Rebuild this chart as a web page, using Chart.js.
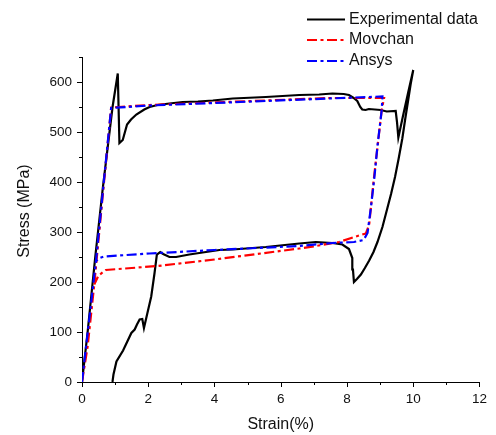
<!DOCTYPE html>
<html>

<head>
    <script src="https://cdn.jsdelivr.net/npm/chart.js@4.4.0/dist/chart.umd.min.js"></script>
    <style>
        html, body {
            margin: 0;
            padding: 0;
            background-color: #fff;
        }

        #wrap {
            width: 496px;
            height: 435px;
        }
    </style>
</head>

<body>
    <div id="wrap">
        <canvas id="myChart"></canvas>
    </div>

    <script>
        // Experimental data (loading then unloading loop)
        const expStrain = [0, 0.17, 0.4, 0.63, 0.92, 1.08,
            1.13, 1.23, 1.36, 1.48, 1.64, 1.88, 2.04, 2.28, 2.64, 3.04, 3.5, 3.95, 4.55, 5.55, 6.56, 7.16, 7.56, 7.9, 8.06, 8.2, 8.31, 8.4, 8.46, 8.56, 8.66, 9.02, 9.2, 9.47, 9.51, 9.55,
            9.7, 9.85, 10.0,
            9.92, 9.85, 9.76, 9.67, 9.56, 9.45, 9.33, 9.22, 9.07, 8.92, 8.8, 8.67, 8.54, 8.42, 8.3, 8.21,
            8.18, 8.16, 8.06, 7.86, 7.56, 7.06, 6.56, 5.55, 4.55, 4.15, 3.54, 3.24, 2.84, 2.64, 2.45, 2.36, 2.26, 2.19, 2.09, 1.94, 1.87, 1.82, 1.74, 1.66, 1.59, 1.49, 1.24, 1.04, 0.95, 0.92];
        const expStress = [0, 100, 250, 389, 549, 617,
            478, 484, 515, 525, 535, 545, 550, 554, 557, 560, 561, 563, 567, 570, 574, 575, 577, 576, 574, 568, 562, 550, 545, 544, 546, 544, 541, 542, 520, 489,
            535, 580, 624,
            595, 565, 527, 487, 447, 410, 376, 348, 310, 280, 260, 243, 228, 215, 206, 200,
            225, 248, 266, 275, 278, 280, 277, 270, 265, 264, 258, 255, 250, 250, 256, 260, 255, 218, 171, 128, 108, 126, 125, 115, 105, 98, 63, 41, 15, 0];

        // Movchan model
        const movStrain = [0, 0.17, 0.37, 0.6, 0.88, 2.04, 7.46, 9.12, 9.05, 8.92, 8.8, 8.67, 8.57, 8.36, 7.76, 7.06, 6.56, 4.0, 2.28, 0.72, 0.5, 0.37];
        const movStress = [0, 71, 195, 355, 549, 554, 568, 568, 545, 470, 400, 315, 297, 293, 280, 272, 267, 245, 232, 224, 213, 195];

        // Ansys model
        const ansStrain = [0, 0.42, 0.88, 2.04, 7.46, 9.07, 9.05, 8.92, 8.82, 8.72, 8.62, 8.5, 8.21, 7.56, 6.56, 4.0, 2.04, 0.67, 0.5, 0.42];
        const ansStress = [0, 241, 548, 553, 567, 571, 545, 472, 405, 348, 298, 284, 280, 278, 272, 264, 257, 251, 247, 241];

        const xTicks = [0, 2, 4, 6, 8, 10, 12];
        const yTicks = [0, 100, 200, 300, 400, 500, 600];

        function toPoints(xs, ys) {
            return xs.map((x, i) => ({ x: x, y: ys[i] }));
        }

        const fontFamily = '"Liberation Sans", Arial, sans-serif';
        const dashDot = [10, 3.5, 3, 3.5];

        // ticks (major + minor), axis titles and legend
        const extras = {
            id: 'extras',
            afterDraw(chart) {
                const ctx = chart.ctx;
                const xs = chart.scales.x;
                const ys = chart.scales.y;
                const area = chart.chartArea;
                ctx.save();
                ctx.strokeStyle = '#000';
                ctx.lineWidth = 1;
                for (let v = 0; v <= 12; v++) {
                    const px = Math.round(xs.getPixelForValue(v)) + 0.5;
                    const len = v % 2 === 0 ? 5 : 3;
                    ctx.beginPath();
                    ctx.moveTo(px, area.bottom);
                    ctx.lineTo(px, area.bottom + len);
                    ctx.stroke();
                }
                for (let v = 0; v <= 650; v += 50) {
                    const py = Math.round(ys.getPixelForValue(v)) + 0.5;
                    const len = v % 100 === 0 ? 5 : 3;
                    ctx.beginPath();
                    ctx.moveTo(area.left, py);
                    ctx.lineTo(area.left - len, py);
                    ctx.stroke();
                }

                // axis titles
                ctx.fillStyle = '#111';
                ctx.font = '16px ' + fontFamily;
                ctx.textAlign = 'center';
                ctx.textBaseline = 'middle';
                ctx.fillText('Strain(%)', (area.left + area.right) / 2, 425);
                ctx.save();
                ctx.translate(25, 211);
                ctx.rotate(-Math.PI / 2);
                ctx.fillText('Stress (MPa)', 0, 0);
                ctx.restore();

                // legend
                const rows = [19.5, 40, 61];
                chart.data.datasets.forEach((ds, i) => {
                    const y = rows[i];
                    ctx.save();
                    ctx.strokeStyle = ds.borderColor;
                    ctx.lineWidth = 2.2;
                    ctx.setLineDash(ds.borderDash || []);
                    ctx.beginPath();
                    ctx.moveTo(307, y);
                    ctx.lineTo(345, y);
                    ctx.stroke();
                    ctx.restore();
                    ctx.textAlign = 'left';
                    ctx.fillText(ds.label, 349, y);
                });
                ctx.restore();
            }
        };

        const ctx = document.getElementById('myChart').getContext('2d');
        new Chart(ctx, {
            type: 'scatter',
            data: {
                datasets: [{
                    label: 'Experimental data',
                    data: toPoints(expStrain, expStress),
                    borderColor: '#000000',
                    borderWidth: 2.2,
                    showLine: true,
                    pointRadius: 0,
                    order: 3
                }, {
                    label: 'Movchan',
                    data: toPoints(movStrain, movStress),
                    borderColor: '#ff0000',
                    borderWidth: 2.2,
                    borderDash: dashDot,
                    showLine: true,
                    pointRadius: 0,
                    order: 2
                }, {
                    label: 'Ansys',
                    data: toPoints(ansStrain, ansStress),
                    borderColor: '#0000ff',
                    borderWidth: 2.2,
                    borderDash: dashDot,
                    showLine: true,
                    pointRadius: 0,
                    order: 1
                }]
            },
            options: {
                responsive: true,
                maintainAspectRatio: false,
                animation: false,
                layout: {
                    padding: { left: 0, right: 15, top: 57, bottom: 0 }
                },
                plugins: {
                    legend: { display: false },
                    tooltip: { enabled: false }
                },
                scales: {
                    x: {
                        type: 'linear',
                        min: 0,
                        max: 12,
                        afterFit: (scale) => { scale.height = 53; },
                        afterBuildTicks: (scale) => { scale.ticks = xTicks.map(v => ({ value: v })); },
                        ticks: {
                            color: '#111',
                            font: { size: 13.5, family: fontFamily },
                            padding: 9,
                            maxRotation: 0
                        },
                        grid: { display: true, drawOnChartArea: false, drawTicks: false },
                        border: { display: true, color: '#000', width: 1 }
                    },
                    y: {
                        type: 'linear',
                        min: 0,
                        max: 650,
                        afterFit: (scale) => { scale.width = 82; },
                        afterBuildTicks: (scale) => { scale.ticks = yTicks.map(v => ({ value: v })); },
                        ticks: {
                            color: '#111',
                            font: { size: 13.5, family: fontFamily },
                            padding: 10
                        },
                        grid: { display: true, drawOnChartArea: false, drawTicks: false },
                        border: { display: true, color: '#000', width: 1 }
                    }
                }
            },
            plugins: [extras]
        });
    </script>
</body>

</html>
